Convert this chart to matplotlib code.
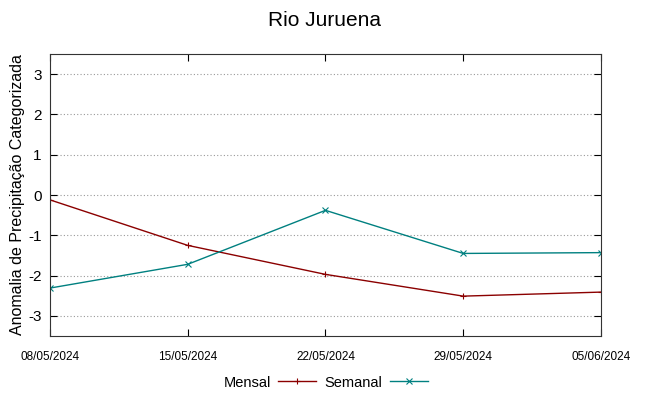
import matplotlib.pyplot as plt
from datetime import datetime

plt.rcParams['font.family'] = ['Liberation Sans', 'DejaVu Sans']
plt.rcParams['axes.unicode_minus'] = False

# Données
datas = ["08/05/2024", "15/05/2024", "22/05/2024", "29/05/2024", "05/06/2024"]
mensal = [-0.12, -1.25, -1.97, -2.51, -2.41]
semanal = [-2.31, -1.72, -0.38, -1.45, -1.43]

x = [datetime.strptime(d, "%d/%m/%Y") for d in datas]

fig = plt.figure(figsize=(6.49, 3.96), dpi=100)
ax = fig.add_axes([0.077, 0.1515, 0.849, 0.712])

ax.plot(x, mensal, color="#8b0000", lw=1, marker="+", ms=5, mew=0.8, label="Mensal")
ax.plot(x, semanal, color="#008080", lw=1, marker="x", ms=4.5, mew=0.8, label="Semanal")

ax.set_xlim(x[0], x[-1])
ax.set_ylim(-3.5, 3.5)
ax.set_yticks([-3, -2, -1, 0, 1, 2, 3])
ax.set_xticks(x)
ax.set_xticklabels(datas, fontsize=8.5)
ax.tick_params(axis="x", pad=11)
ax.tick_params(axis="y", labelsize=11, pad=6)
ax.tick_params(direction="in", top=True, right=True, length=5, color="black")
ax.yaxis.grid(True, linestyle=(0, (1, 2)), color="#999999", lw=0.8)
for s in ax.spines.values():
    s.set_color("#333333")

ax.set_ylabel("Anomalia de Precipitação Categorizada", fontsize=11.5, labelpad=2)
fig.suptitle("Rio Juruena", fontsize=15, y=0.972)

ax.legend(loc="center", bbox_to_anchor=(0.5, -0.165), ncol=2, frameon=False,
          markerfirst=False, fontsize=10.5, handlelength=2.6, columnspacing=0.6,
          handletextpad=0.5)

fig.savefig("out.png", dpi=100)
